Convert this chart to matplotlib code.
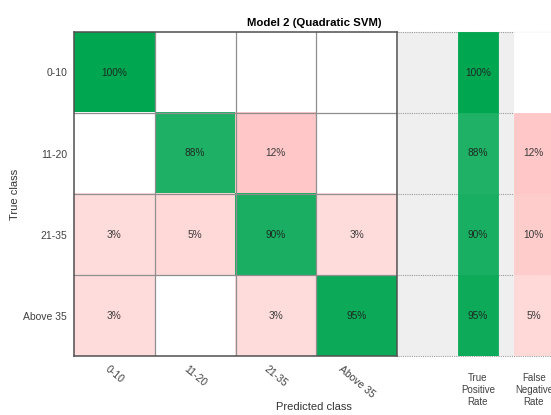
import numpy as np
import matplotlib
matplotlib.use("Agg")
import matplotlib.pyplot as plt

plt.rcParams['font.family'] = ['Liberation Sans', 'DejaVu Sans']

# Confusion matrix (row-normalised, %)
classes = ["0-10", "11-20", "21-35", "Above 35"]
cm_pct = [
    [100, 0, 0, 0],
    [0, 88, 12, 0],
    [3, 5, 90, 3],
    [3, 0, 3, 95],
]
tpr = [100, 88, 90, 95]
fnr = [0, 12, 10, 5]
summary_labels = ["True\nPositive\nRate", "False\nNegative\nRate"]
title = "Model 2 (Quadratic SVM)"

GREEN = np.array([0, 166, 80]) / 255.0


def good_color(v):
    a = v / 100.0
    return tuple((1 - a) * np.ones(3) + a * GREEN)


def bad_color(v):
    if v <= 0:
        return (1.0, 1.0, 1.0)
    d = (27 + 2.4 * v) / 255.0
    return (1.0, 1.0 - d, 1.0 - d)


W, H = 551, 415
fig = plt.figure(figsize=(W / 100, H / 100), dpi=100)


def px_axes(x0, y0, x1, y1):
    return fig.add_axes([x0 / W, 1 - y1 / H, (x1 - x0) / W, (y1 - y0) / H])


CELL_FS = 7.3

# Main matrix
ax = px_axes(74, 32, 397, 356)
n = len(classes)
rgb = np.ones((n, n, 3))
for i in range(n):
    for j in range(n):
        v = cm_pct[i][j]
        if v > 0:
            rgb[i, j] = good_color(v) if i == j else bad_color(v)
ax.imshow(rgb, extent=(-0.5, n - 0.5, n - 0.5, -0.5), aspect='auto',
          interpolation='nearest')
for k in range(1, n):
    ax.axhline(k - 0.5, color='#8f8f8f', lw=0.9)
    ax.axvline(k - 0.5, color='#8f8f8f', lw=0.9)
for i in range(n):
    for j in range(n):
        v = cm_pct[i][j]
        if v > 0:
            ax.text(j, i, f"{v}%", ha='center', va='center', fontsize=CELL_FS,
                    color='#1e2a22' if i == j else '#3a3a3a')
ax.set_xlim(-0.5, n - 0.5)
ax.set_ylim(n - 0.5, -0.5)
ax.set_xticks(range(n))
ax.set_yticks(range(n))
ax.set_xticklabels(classes, rotation=-40, ha='center', va='top',
                   fontsize=7.5, color='#404040')
ax.set_yticklabels(classes, fontsize=7.5, color='#404040')
ax.tick_params(length=0, pad=5)
ax.tick_params(axis='x', pad=6)
for s in ax.spines.values():
    s.set_color('#505050')
    s.set_linewidth(1.1)

# Per-class summary columns
ax2 = px_axes(398, 32, 554, 356)
ax2.set_facecolor('#efefef')
ax2.set_xlim(-0.43, 2.36)
ax2.set_ylim(n - 0.5, -0.5)
for k in range(n + 1):
    ax2.axhline(k - 0.5, color='#9a9a9a', lw=0.8, ls=(0, (1, 1)), zorder=1,
                clip_on=False)
col_w = 0.714
rows = np.arange(n)
tpr_cols = [good_color(v) for v in tpr]
fnr_cols = [bad_color(v) for v in fnr]
ax2.bar(np.full(n, 1.0), np.ones(n), bottom=rows - 0.5, width=col_w,
        color=tpr_cols, edgecolor=tpr_cols, linewidth=0.6, zorder=2)
ax2.bar(np.full(n, 2.0), np.ones(n), bottom=rows - 0.5, width=col_w,
        color=fnr_cols, edgecolor=fnr_cols, linewidth=0.6, zorder=2)
for i in range(n):
    ax2.text(1.0, i, f"{tpr[i]}%", ha='center', va='center', fontsize=CELL_FS,
             color='#1e2a22', zorder=3)
    if fnr[i] > 0:
        ax2.text(2.0, i, f"{fnr[i]}%", ha='center', va='center',
                 fontsize=CELL_FS, color='#3a3a3a', zorder=3)
ax2.set_xticks([1.0, 2.0])
ax2.set_xticklabels(summary_labels, fontsize=7, color='#404040',
                    linespacing=1.3)
ax2.tick_params(length=0, pad=12)
ax2.set_yticks([])
for s in ax2.spines.values():
    s.set_visible(False)

fig.text(314 / W, 1 - 23 / H, title, ha='center', va='center',
         fontsize=8.2, fontweight='bold', color='black')
fig.text(314 / W, 1 - 407 / H, "Predicted class", ha='center', va='center',
         fontsize=8, color='#333333')
fig.text(15 / W, 1 - 194 / H, "True class", ha='center', va='center',
         rotation=90, fontsize=8, color='#333333')

fig.savefig("out.png", dpi=100)
